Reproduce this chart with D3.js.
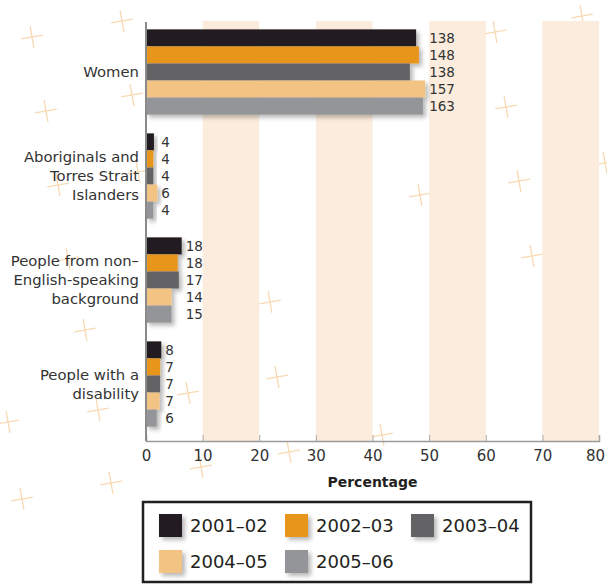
<!DOCTYPE html>
<html>
<head>
<meta charset="utf-8">
<script src="https://cdn.jsdelivr.net/npm/d3@7"></script>
<style>
  body { margin: 0; background: #fff; }
  svg { display: block; }
  text { font-family: "DejaVu Sans", sans-serif; }
</style>
</head>
<body>
<svg id="chart" width="607" height="585"></svg>
<script>
// Staff groups (label lines for each category)
const categories = ["Women", "Aboriginals and Torres Strait Islanders", "People from non–English-speaking background", "People with a disability"];
const categoryLines = [
  ["Women"],
  ["Aboriginals and", "Torres Strait", "Islanders"],
  ["People from non–", "English-speaking", "background"],
  ["People with a", "disability"]
];
const years = ["2001–02", "2002–03", "2003–04", "2004–05", "2005–06"];

// Share of staff (percentage) per year, one value per category
const pct2001 = [47.7, 1.4, 6.3, 2.7];
const pct2002 = [48.2, 1.3, 5.6, 2.5];
const pct2003 = [46.6, 1.3, 5.8, 2.5];
const pct2004 = [49.3, 2.0, 4.5, 2.4];
const pct2005 = [48.9, 1.3, 4.5, 1.9];

// Head counts printed beside each bar
const count2001 = [138, 4, 18, 8];
const count2002 = [148, 4, 18, 7];
const count2003 = [138, 4, 17, 7];
const count2004 = [157, 6, 14, 7];
const count2005 = [163, 4, 15, 6];

const xTicks = [0, 10, 20, 30, 40, 50, 60, 70, 80];
const bandStarts = [10, 30, 50, 70];

// Decorative background crosses
const crosses = [
  [32, 37], [122, 21], [46, 111], [132, 95], [58, 185], [138, 172],
  [68, 259], [85, 330], [188, 393], [98, 410], [8, 422], [201, 467],
  [289, 452], [382, 435], [22, 499], [111, 483], [495, 32], [582, 16],
  [506, 107], [519, 181], [532, 256], [420, 195], [270, 302], [277, 377],
  [383, 40], [605, 163]
];

const pctSeries = [pct2001, pct2002, pct2003, pct2004, pct2005];
const countSeries = [count2001, count2002, count2003, count2004, count2005];
const colors = ["#231f20", "#e8951c", "#636466", "#f3c384", "#939598"];

const svg = d3.select("#chart");

const defs = svg.append("defs");
const shadow = defs.append("filter").attr("id", "shadow")
  .attr("x", "-20%").attr("y", "-30%").attr("width", "160%").attr("height", "190%");
shadow.append("feDropShadow").attr("dx", 3).attr("dy", 3).attr("stdDeviation", 2)
  .attr("flood-color", "#000").attr("flood-opacity", 0.28);

const plotTop = 21, plotBottom = 441;
const x = d3.scaleLinear().domain([0, 80]).range([146, 599]);
const y = d3.scaleBand().domain(categories).range([20, 436]).paddingInner(0.18).paddingOuter(0.09);
const yInner = d3.scaleBand().domain(years).range([0, y.bandwidth()]);
const color = d3.scaleOrdinal().domain(years).range(colors);

// background crosses
const crossG = svg.append("g").attr("stroke", "#f8d9b3").attr("stroke-width", 1.3);
crosses.forEach(([cx, cy]) => {
  const g = crossG.append("g").attr("transform", `translate(${cx},${cy}) rotate(-10)`);
  g.append("line").attr("x1", -11).attr("x2", 11).attr("y1", 0).attr("y2", 0);
  g.append("line").attr("x1", 0).attr("x2", 0).attr("y1", -11).attr("y2", 11);
});

// alternating shaded bands
svg.append("g").selectAll("rect").data(bandStarts).join("rect")
  .attr("x", d => x(d)).attr("width", d => x(d + 10) - x(d))
  .attr("y", plotTop).attr("height", plotBottom - plotTop)
  .attr("fill", "#fcecdd");

// bottom axis
const xAxis = svg.append("g").attr("transform", `translate(0,${plotBottom})`)
  .call(d3.axisBottom(x).tickValues(xTicks).tickSize(-6).tickPadding(9).tickFormat(d3.format("d")));
xAxis.select(".domain").attr("stroke", "#9a9a9a").attr("stroke-width", 1.5);
xAxis.selectAll(".tick line").attr("stroke", "#a8a8a8");
xAxis.selectAll(".tick text").attr("fill", "#333").attr("font-size", 15)
  .attr("font-family", "DejaVu Sans, sans-serif")
  .attr("dx", d => d === 80 ? -4 : 0);

svg.append("text").attr("x", x(40)).attr("y", 482).attr("dy", "0.35em")
  .attr("text-anchor", "middle").attr("font-weight", "bold").attr("font-size", 14)
  .attr("fill", "#231f20").text("Percentage");

// bars
const groups = svg.append("g").selectAll("g").data(categories).join("g")
  .attr("transform", d => `translate(0,${y(d)})`);

groups.each(function(cat, ci) {
  const g = d3.select(this);
  const rows = years.map((yr, si) => ({ yr, pct: pctSeries[si][ci], count: countSeries[si][ci] }));
  g.selectAll("rect").data(rows).join("rect")
    .attr("x", x(0)).attr("y", d => yInner(d.yr))
    .attr("width", d => x(d.pct) - x(0)).attr("height", yInner.bandwidth())
    .attr("fill", d => color(d.yr)).attr("filter", "url(#shadow)");
  const labelX = x(d3.max(rows, d => d.pct)) + 4;
  g.selectAll("text.val").data(rows).join("text").attr("class", "val")
    .attr("x", labelX).attr("y", d => yInner(d.yr) + yInner.bandwidth() / 2)
    .attr("dy", "0.36em").attr("font-size", 13.5).attr("fill", "#333")
    .text(d => d.count);
});

// left axis line
svg.append("line").attr("x1", 146).attr("x2", 146).attr("y1", 22).attr("y2", plotBottom)
  .attr("stroke", "#8a8a8a").attr("stroke-width", 2);

// category labels
categories.forEach((cat, ci) => {
  const lines = categoryLines[ci];
  const cy = y(cat) + y.bandwidth() / 2;
  const lh = 19;
  const t = svg.append("text").attr("text-anchor", "end").attr("font-size", 14.8).attr("fill", "#333");
  lines.forEach((ln, li) => {
    t.append("tspan").attr("x", 139)
      .attr("y", cy + (li - (lines.length - 1) / 2) * lh).attr("dy", "0.35em").text(ln);
  });
});

// legend
const legend = svg.append("g");
legend.append("rect").attr("x", 143).attr("y", 502).attr("width", 388).attr("height", 80)
  .attr("fill", "#fff").attr("stroke", "#231f20").attr("stroke-width", 2.5);
const colX = [159, 285, 411], rowY = [514, 550];
years.forEach((yr, i) => {
  const lx = colX[i % 3], ly = rowY[Math.floor(i / 3)];
  legend.append("rect").attr("x", lx).attr("y", ly).attr("width", 23).attr("height", 23)
    .attr("fill", color(yr)).attr("filter", "url(#shadow)");
  legend.append("text").attr("x", lx + 31).attr("y", ly + 11.5).attr("dy", "0.36em")
    .attr("font-size", 18).attr("fill", "#231f20").text(yr);
});
</script>
</body>
</html>
